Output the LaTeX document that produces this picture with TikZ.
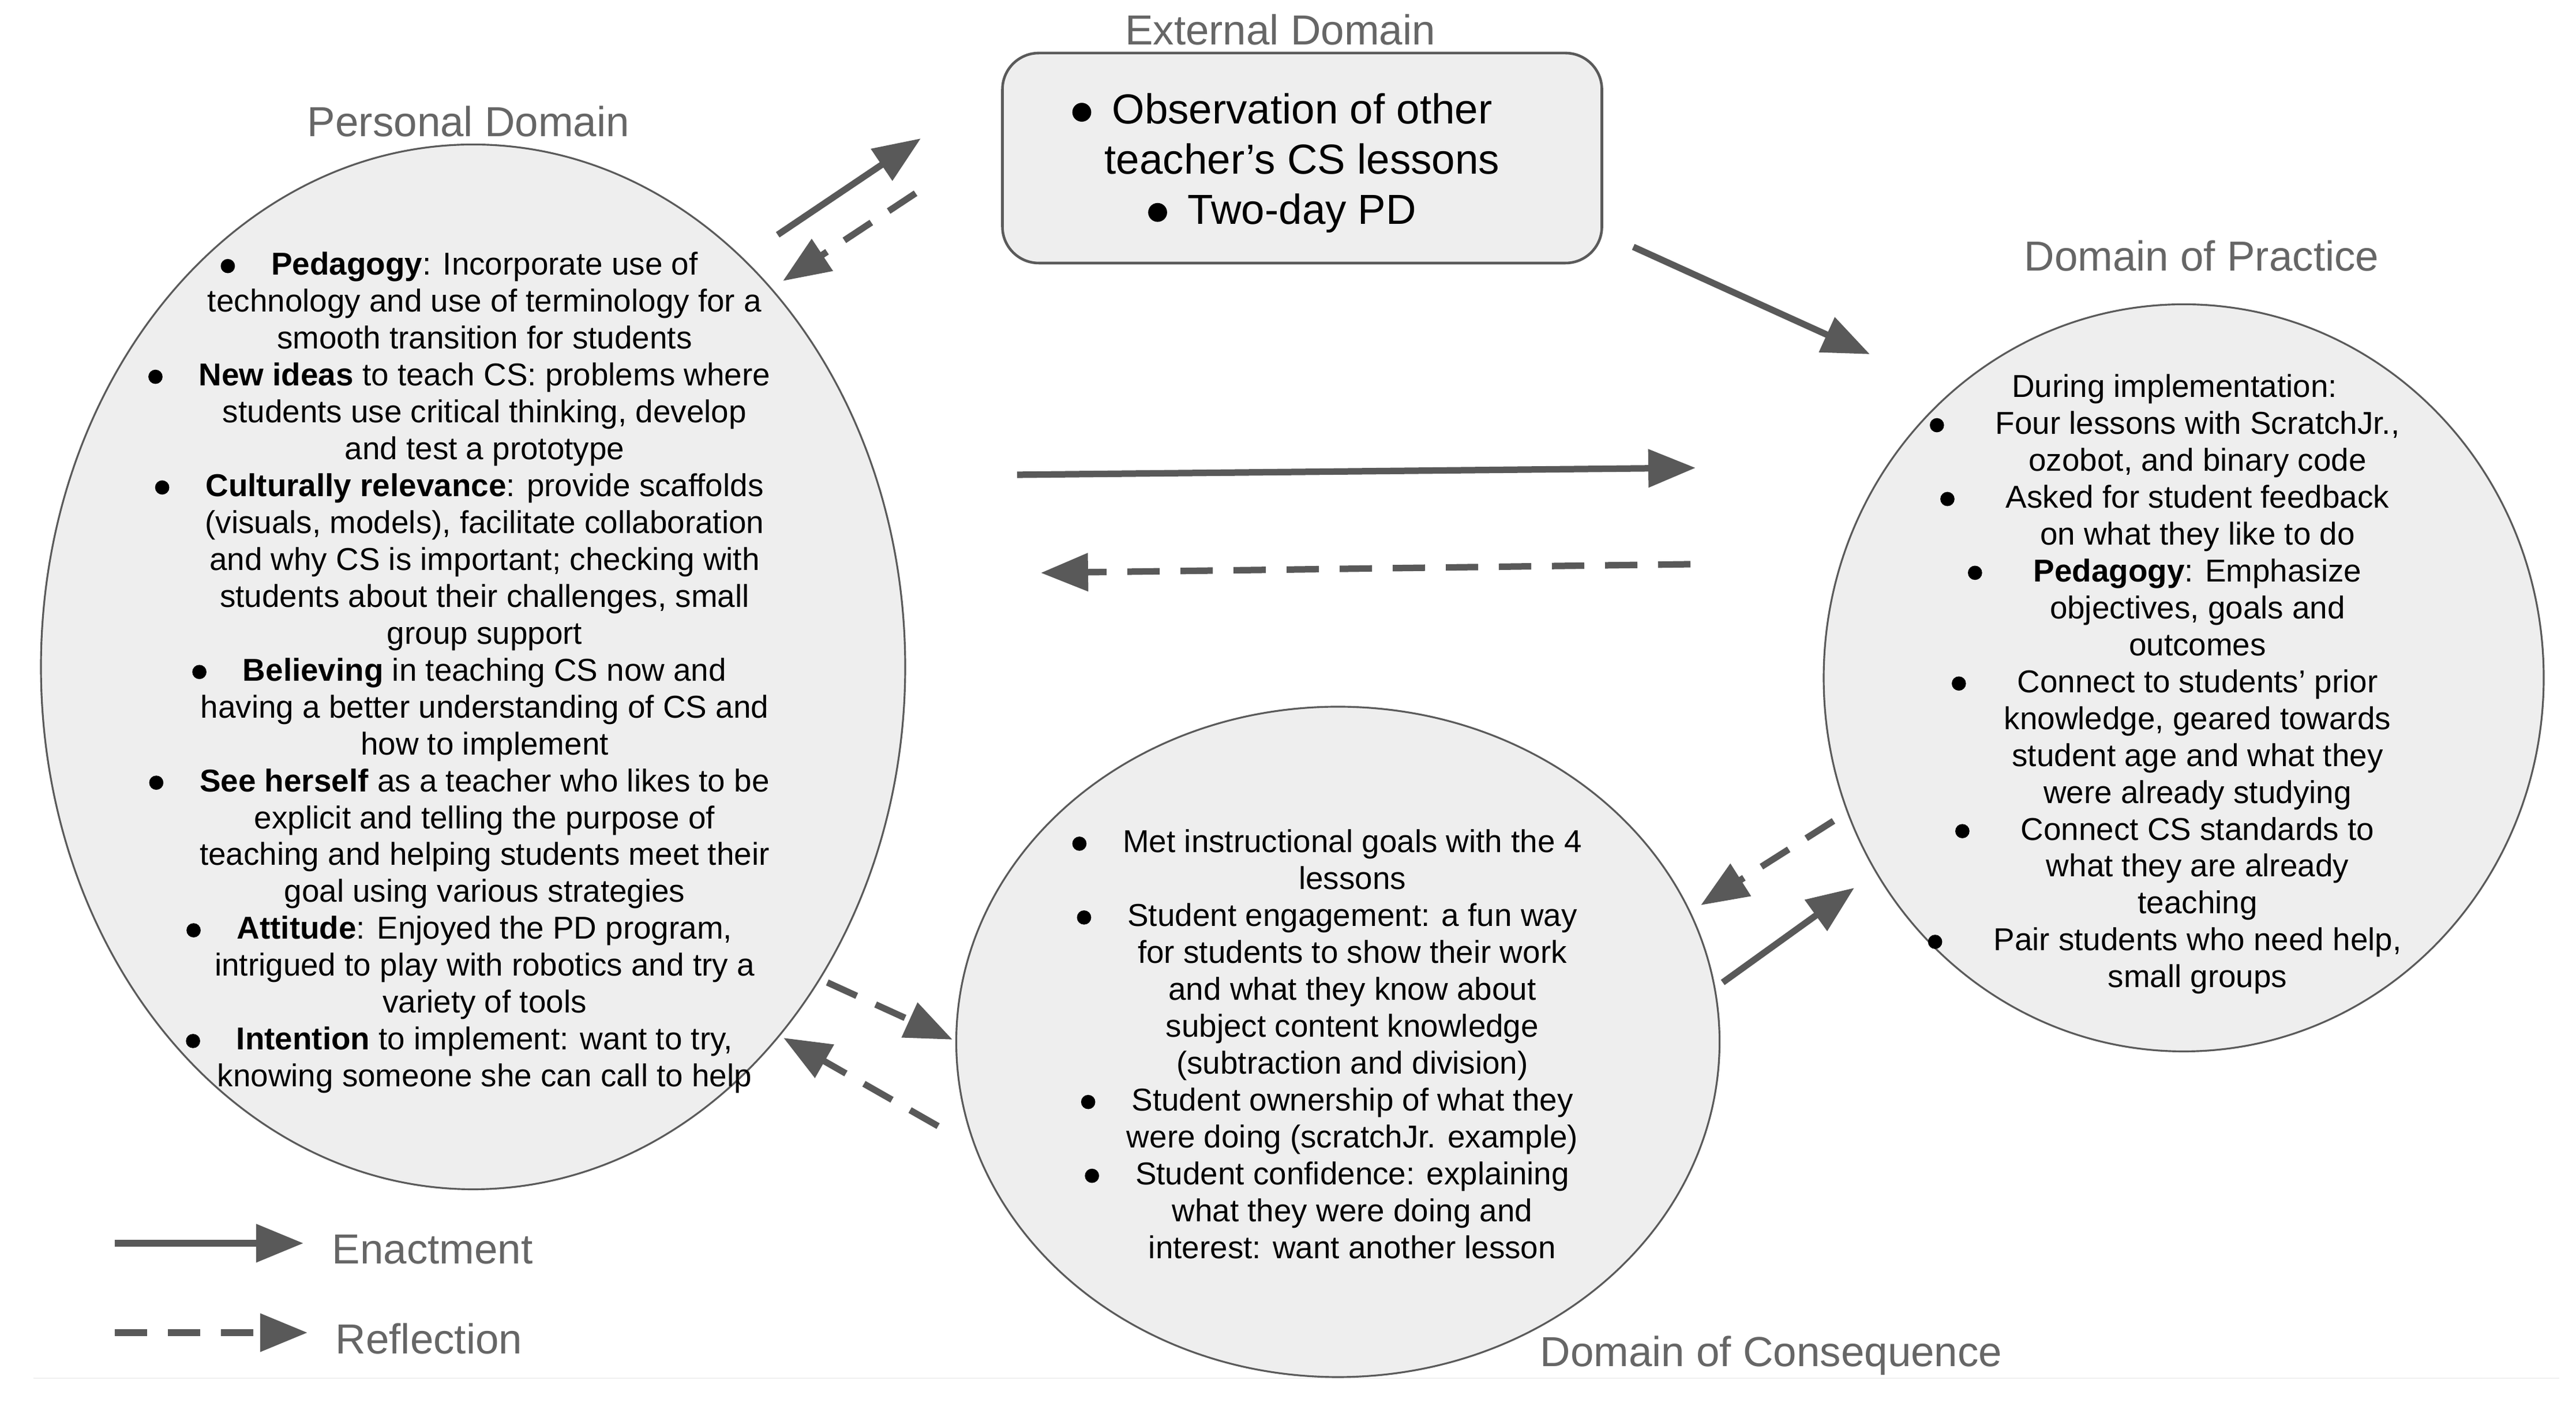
\documentclass[tikz,border=0pt]{standalone}
\usepackage{fontspec}
\setmainfont{Liberation Sans}
\usetikzlibrary{arrows.meta,shapes.geometric,positioning}
\definecolor{fillgray}{HTML}{EEEEEE}
\definecolor{edgegray}{HTML}{5A5A5A}
\definecolor{arrowgray}{HTML}{595959}
\definecolor{labelgray}{HTML}{666666}
\newcommand{\bodyfont}{\fontsize{15.6}{18.2}\selectfont}
\newcommand{\labelfont}{\fontsize{20.7}{24.7}\selectfont}
\newcommand{\dotmark}{\tikz[baseline=-0.28em]\fill (0,0) circle (0.225em);}
\newcommand{\itm}[1][0.63cm]{\llap{\dotmark\hspace{#1}}}
\tikzset{
	domellipse/.style={ellipse, draw=edgegray, line width=0.9pt, fill=fillgray, inner sep=0pt},
	extbox/.style={draw=edgegray, line width=1.3pt, fill=fillgray, rounded corners=0.63cm, minimum width=10.39cm, minimum height=3.64cm},
	bodytext/.style={align=center, font=\bodyfont, inner sep=0pt},
	domlabel/.style={font=\labelfont, text=labelgray, inner sep=0pt},
	enactarrow/.style={draw=arrowgray, line width=3.2pt, -{Triangle[length=0.82cm,width=0.64cm]}},
	reflectarrow/.style={enactarrow, dash pattern=on 0.56cm off 0.36cm}
}
\begin{document}
\begin{tikzpicture}[line join=round]
	\fill[white] (0,0) rectangle (44.65,24.51);
	\useasboundingbox (0,0) rectangle (44.65,24.51);
	\draw[gray!12, line width=0.8pt] (0.58,0.62)--(44.36,0.62);
	\node[domellipse, minimum width=14.98cm, minimum height=18.11cm] (pers) at (8.20,12.95) {};
	\node[domellipse, minimum width=12.48cm, minimum height=12.95cm] (prac) at (37.85,12.76) {};
	\node[domellipse, minimum width=13.23cm, minimum height=11.62cm] (cons) at (23.19,6.45) {};
	\node[extbox] (ext) at (22.57,21.77) {};
	\node[bodytext, font=\labelfont, yshift=-0.09cm] (exttext) at (ext.center) {\itm[0.36cm]Observation of other\\ teacher’s CS lessons\\ \itm[0.36cm]Two-day PD};
	\node[bodytext, xshift=0.2cm, yshift=-0.10cm] (perstext) at (pers.center) {%
		\itm\textbf{Pedagogy}: Incorporate use of\\
		technology and use of terminology for a\\
		smooth transition for students\\
		\itm\textbf{New ideas} to teach CS: problems where\\
		students use critical thinking, develop\\
		and test a prototype\\
		\itm\textbf{Culturally relevance}: provide scaffolds\\
		(visuals, models), facilitate collaboration\\
		and why CS is important; checking with\\
		students about their challenges, small\\
		group support\\
		\itm\textbf{Believing} in teaching CS now and\\
		having a better understanding of CS and\\
		how to implement\\
		\itm\textbf{See herself} as a teacher who likes to be\\
		explicit and telling the purpose of\\
		teaching and helping students meet their\\
		goal using various strategies\\
		\itm\textbf{Attitude}: Enjoyed the PD program,\\
		intrigued to play with robotics and try a\\
		variety of tools\\
		\itm\textbf{Intention} to implement: want to try,\\
		knowing someone she can call to help};
	\node[bodytext, xshift=0.24cm, yshift=-0.11cm] (practext) at (prac.center) {%
		During implementation:\hspace*{0.8cm}\\
		\itm[0.89cm]Four lessons with ScratchJr.,\\
		ozobot, and binary code\\
		\itm[0.89cm]Asked for student feedback\\
		on what they like to do\\
		\itm[0.89cm]\textbf{Pedagogy}: Emphasize\\
		objectives, goals and\\
		outcomes\\
		\itm[0.89cm]Connect to students’ prior\\
		knowledge, geared towards\\
		student age and what they\\
		were already studying\\
		\itm[0.89cm]Connect CS standards to\\
		what they are already\\
		teaching\\
		\itm[0.89cm]Pair students who need help,\\
		small groups};
	\node[bodytext, xshift=0.25cm, yshift=-0.04cm] (constext) at (cons.center) {%
		\itm Met instructional goals with the 4\\
		lessons\\
		\itm Student engagement: a fun way\\
		for students to show their work\\
		and what they know about\\
		subject content knowledge\\
		(subtraction and division)\\
		\itm Student ownership of what they\\
		were doing (scratchJr. example)\\
		\itm Student confidence: explaining\\
		what they were doing and\\
		interest: want another lesson};
	\node[domlabel] (perslab) at (8.12,22.40) {Personal Domain};
	\node[domlabel] (extlab) at (22.19,23.99) {External Domain};
	\node[domlabel] (praclab) at (38.16,20.07) {Domain of Practice};
	\node[domlabel] (conslab) at (30.70,1.01) {Domain of Consequence};
	\node[domlabel, anchor=west] (enlab) at (5.75,2.85) {Enactment};
	\node[domlabel, anchor=west] (relab) at (5.81,1.30) {Reflection};
	\coordinate (pe1) at (13.48,20.44); \coordinate (pe2) at (15.96,22.11);
	\coordinate (ep1) at (15.87,21.16); \coordinate (ep2) at (13.57,19.64);
	\coordinate (epr1) at (28.31,20.23); \coordinate (epr2) at (32.41,18.37);
	\coordinate (ppr1) at (17.63,16.28); \coordinate (ppr2) at (29.39,16.40);
	\coordinate (prp1) at (29.30,14.73); \coordinate (prp2) at (18.04,14.58);
	\coordinate (prc1) at (31.78,10.28); \coordinate (prc2) at (29.48,8.82);
	\coordinate (cpr1) at (29.86,7.48); \coordinate (cpr2) at (32.14,9.12);
	\coordinate (pc1) at (14.34,7.48); \coordinate (pc2) at (16.51,6.49);
	\coordinate (cp1) at (16.26,4.99); \coordinate (cp2) at (13.58,6.52);
	\coordinate (en1) at (1.99,2.96); \coordinate (en2) at (5.26,2.96);
	\coordinate (re1) at (1.99,1.41); \coordinate (re2) at (5.33,1.41);
	\foreach \from/\to in {pe1/pe2,epr1/epr2,ppr1/ppr2,cpr1/cpr2,en1/en2}
	\draw[enactarrow] (\from)--(\to);
	\foreach \from/\to in {ep1/ep2,prp1/prp2,prc1/prc2,pc1/pc2,cp1/cp2,re1/re2}
	\draw[reflectarrow] (\from)--(\to);
\end{tikzpicture}
\end{document}
